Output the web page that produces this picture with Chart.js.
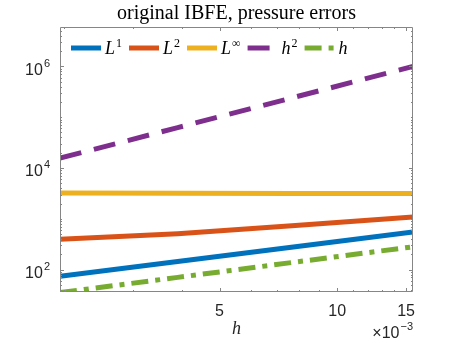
<!DOCTYPE html>
<html>
<head>
<meta charset="utf-8">
<script src="https://cdn.jsdelivr.net/npm/chart.js@4.4.1/dist/chart.umd.min.js"></script>
<style>
html, body { margin: 0; padding: 0; background: #fff; }
canvas { display: block; }
</style>
</head>
<body>
<canvas id="errChart" width="457" height="343"></canvas>
<script>
// mesh sizes and errors
var hValues = [1/512, 1/256, 1/128, 1/64];
var errL1   = [73.8, 144, 282, 550];
var errL2   = [395, 509, 738, 1084];
var errLinf = [3220, 3200, 3150, 3130];
var refH2   = [15625, 62500, 250000, 1000000];
var refH    = [35.2, 70.3, 140.6, 281.3];

var seriesBase = ['L', 'L', 'L', 'h', 'h'];
var seriesSup  = ['1', '2', '\u221E', '2', ''];

var xTicks = [0.005, 0.01, 0.015];
var xMinor = [0.002, 0.003, 0.004, 0.006, 0.007, 0.008, 0.009, 0.011, 0.012, 0.013, 0.014];
var yTicks = [1e2, 1e4, 1e6];
var yExp   = ['2', '4', '6'];

var yMin = 36.2, yMax = 5.97e6;

var yMinor = [];
for (var d = 1; d <= 6; d++) {
	for (var k = 1; k <= 9; k++) {
		var v = k * Math.pow(10, d);
		if (v > yMin && v < yMax && yTicks.indexOf(v) < 0) yMinor.push(v);
	}
}

function pts(vals) {
	var out = [];
	for (var i = 0; i < hValues.length; i++) out.push({x: hValues[i], y: vals[i]});
	return out;
}

var serif = "'Liberation Serif', 'DejaVu Serif', serif";
var sans = "'Liberation Sans', 'DejaVu Sans', sans-serif";

// box, inward ticks, y labels with exponents, legend and the x10^-3 note
var frame = {
	id: 'frame',
	afterDatasetsDraw: function(chart) {
		var ctx = chart.ctx, a = chart.chartArea;
		var xs = chart.scales.x, ys = chart.scales.y;
		ctx.save();
		ctx.strokeStyle = '#868686';
		ctx.lineWidth = 1;
		ctx.beginPath();
		ctx.rect(a.left + 0.5, a.top + 0.5, a.right - a.left - 1, a.bottom - a.top - 1);
		function xt(v, len) {
			var p = Math.round(xs.getPixelForValue(v)) + 0.5;
			ctx.moveTo(p, a.bottom); ctx.lineTo(p, a.bottom - len);
			ctx.moveTo(p, a.top); ctx.lineTo(p, a.top + len);
		}
		function yt(v, len) {
			var p = Math.round(ys.getPixelForValue(v)) + 0.5;
			ctx.moveTo(a.left, p); ctx.lineTo(a.left + len, p);
			ctx.moveTo(a.right, p); ctx.lineTo(a.right - len, p);
		}
		xTicks.forEach(function(v) { xt(v, 4); });
		xMinor.forEach(function(v) { xt(v, 2); });
		yTicks.forEach(function(v) { yt(v, 4); });
		yMinor.forEach(function(v) { yt(v, 2); });
		ctx.stroke();
		ctx.restore();
	},
	afterDraw: function(chart) {
		var ctx = chart.ctx, a = chart.chartArea, ys = chart.scales.y;
		ctx.save();
		ctx.fillStyle = '#262626';
		ctx.textBaseline = 'alphabetic';

		// y tick labels 10^n
		yTicks.forEach(function(v, i) {
			var p = ys.getPixelForValue(v);
			ctx.textAlign = 'right';
			ctx.font = '11px ' + sans;
			var ew = ctx.measureText(yExp[i]).width;
			ctx.fillText(yExp[i], 50, p + 0.5);
			ctx.font = '16px ' + sans;
			ctx.fillText('10', 50 - ew - 1, p + 8.5);
		});

		// exponent note under the x axis
		ctx.textAlign = 'right';
		ctx.font = '11px ' + sans;
		var supW = ctx.measureText('\u22123').width;
		ctx.fillText('\u22123', a.right, 330);
		ctx.font = '16px ' + sans;
		ctx.fillText('\u00D710', a.right - supW - 1, 338);

		// legend
		var x = a.left + 11, yLine = 48, yBase = 54;
		chart.data.datasets.forEach(function(ds, i) {
			ctx.save();
			ctx.strokeStyle = ds.borderColor;
			ctx.lineWidth = ds.borderWidth;
			ctx.setLineDash(ds.borderDash || []);
			ctx.beginPath();
			ctx.moveTo(x, yLine); ctx.lineTo(x + 30, yLine);
			ctx.stroke();
			ctx.restore();
			x += 34;
			ctx.fillStyle = '#000';
			ctx.textAlign = 'left';
			ctx.font = 'italic 18px ' + serif;
			ctx.fillText(seriesBase[i], x, yBase);
			x += ctx.measureText(seriesBase[i]).width + 1;
			if (seriesSup[i]) {
				ctx.font = '12px ' + serif;
				ctx.fillText(seriesSup[i], x, yBase - 7);
				x += ctx.measureText(seriesSup[i]).width;
			}
			x += 7;
		});
		ctx.restore();
	}
};

var ctx = document.getElementById('errChart').getContext('2d');
var errChart = new Chart(ctx, {
	type: 'line',
	data: {
		datasets: [
			{ data: pts(errL1), borderColor: '#0072BD', borderWidth: 5 },
			{ data: pts(errL2), borderColor: '#D95319', borderWidth: 5 },
			{ data: pts(errLinf), borderColor: '#EDB120', borderWidth: 5 },
			{ data: pts(refH2), borderColor: '#7E2F8E', borderWidth: 5, borderDash: [22, 13] },
			{ data: pts(refH), borderColor: '#77AC30', borderWidth: 5, borderDash: [17, 7, 5, 7] }
		]
	},
	options: {
		responsive: false,
		animation: false,
		layout: { padding: { left: 0, right: 44, top: 0, bottom: 0 } },
		elements: { point: { radius: 0 }, line: { tension: 0 } },
		datasets: { line: { clip: 0 } },
		plugins: {
			legend: { display: false },
			tooltip: { enabled: false },
			title: {
				display: true,
				fullSize: false,
				text: 'original IBFE, pressure errors',
				color: '#000',
				font: { family: serif, size: 20, weight: 'normal', lineHeight: 1.05 },
				padding: { top: 3, bottom: 3 }
			}
		},
		scales: {
			x: {
				type: 'logarithmic',
				min: hValues[0],
				max: hValues[hValues.length - 1],
				grid: { display: false, drawTicks: false },
				border: { display: false },
				afterBuildTicks: function(scale) {
					scale.ticks = xTicks.map(function(v) { return {value: v}; });
				},
				afterFit: function(scale) { scale.height = 51; },
				ticks: {
					autoSkip: false,
					maxRotation: 0,
					padding: 10,
					color: '#262626',
					font: { family: sans, size: 16 },
					callback: function(v) { return String(Math.round(v * 1000)); }
				},
				title: {
					display: true,
					text: 'h',
					color: '#262626',
					font: { family: serif, size: 18, style: 'italic', lineHeight: 1.2 },
					padding: { top: 0, bottom: 3 }
				}
			},
			y: {
				type: 'logarithmic',
				min: yMin,
				max: yMax,
				grid: { display: false, drawTicks: false },
				border: { display: false },
				afterBuildTicks: function(scale) {
					scale.ticks = yTicks.map(function(v) { return {value: v}; });
				},
				afterFit: function(scale) { scale.width = 60; },
				ticks: { display: false }
			}
		}
	},
	plugins: [frame]
});
</script>
</body>
</html>
